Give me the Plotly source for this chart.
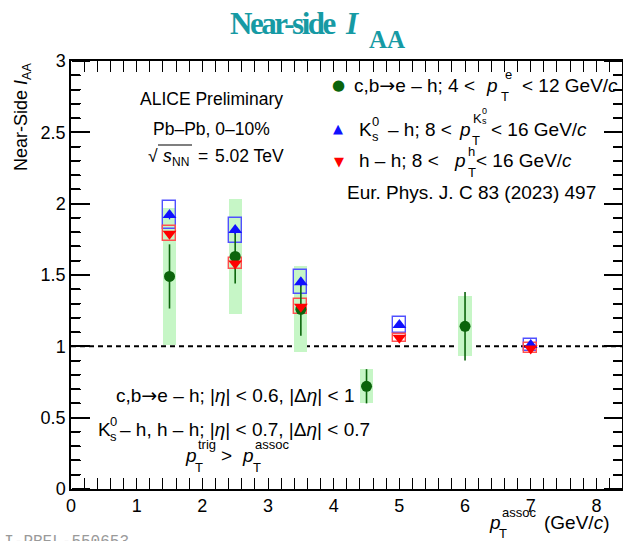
import plotly.graph_objects as go

# ---- data -----------------------------------------------------------------
# Heavy-flavour decay electron - hadron correlations
pt_hfe = [1.5, 2.5, 3.5, 4.5, 6.0]
iaa_hfe = [1.49, 1.63, 1.26, 0.72, 1.14]
stat_hfe = [0.225, 0.19, 0.185, 0.12, 0.24]
sys_hfe = [0.48, 0.40, 0.30, 0.12, 0.21]

# K0s - hadron correlations
pt_k0 = [1.5, 2.5, 3.5, 5.0, 7.0]
iaa_k0 = [1.92, 1.815, 1.45, 1.15, 1.01]
stat_k0 = [0.03, 0.03, 0.03, 0.02, 0.02]
sys_k0 = [0.097, 0.088, 0.085, 0.058, 0.04]

# hadron - hadron correlations
pt_hh = [1.5, 2.5, 3.5, 5.0, 7.0]
iaa_hh = [1.79, 1.58, 1.277, 1.06, 0.985]
stat_hh = [0.01, 0.01, 0.01, 0.01, 0.01]
sys_hh = [0.05, 0.041, 0.052, 0.027, 0.035]

x_range = [0, 8.39]
y_range = [0, 3]

# ---- style ----------------------------------------------------------------
W, H = 623, 541
ML, MR, MT, MB = 71, 1, 61, 52
SANS = "Liberation Sans, Arial, sans-serif"
SERIF = "Liberation Serif, Times New Roman, serif"
MONO = "Liberation Mono, Courier New, monospace"
GREEN = "#0b640b"
GREEN_BOX = "rgb(198,246,198)"
BLUE = "#1010ff"
BLUE_BOX = "rgb(80,80,255)"
RED = "#ff0000"
RED_BOX = "rgb(255,80,80)"
TEAL = "rgb(22,154,164)"
BOX_HALF = 0.1

fig = go.Figure()

# systematic uncertainty boxes
fig.add_trace(go.Bar(
    x=pt_hfe, y=[2 * s for s in sys_hfe], base=[v - s for v, s in zip(iaa_hfe, sys_hfe)],
    width=2 * BOX_HALF, marker=dict(color=GREEN_BOX, line=dict(width=0)),
    showlegend=False, hoverinfo="skip"))
fig.add_trace(go.Bar(
    x=pt_k0, y=[2 * s for s in sys_k0], base=[v - s for v, s in zip(iaa_k0, sys_k0)],
    width=2 * BOX_HALF, marker=dict(color="rgba(0,0,0,0)", line=dict(width=1.4, color=BLUE_BOX)),
    showlegend=False, hoverinfo="skip"))
fig.add_trace(go.Bar(
    x=pt_hh, y=[2 * s for s in sys_hh], base=[v - s for v, s in zip(iaa_hh, sys_hh)],
    width=2 * BOX_HALF, marker=dict(color="rgba(0,0,0,0)", line=dict(width=1.4, color=RED_BOX)),
    showlegend=False, hoverinfo="skip"))

# reference line at unity
fig.add_hline(y=1, line=dict(color="black", width=2, dash="5px,4px"), layer="below")

# points with statistical errors
fig.add_trace(go.Scatter(
    x=pt_hfe, y=iaa_hfe, mode="markers",
    marker=dict(symbol="circle", size=11, color=GREEN, line=dict(width=0)),
    error_y=dict(type="data", array=stat_hfe, color=GREEN, thickness=1.6, width=0),
    showlegend=False))
# K0s and h-h points live on companion y axes (same range) that carry the
# tick marks of the left and right frame edges
fig.add_trace(go.Scatter(
    x=pt_k0, y=iaa_k0, mode="markers", yaxis="y2",
    marker=dict(symbol="triangle-up", size=12, color=BLUE, line=dict(width=0)),
    error_y=dict(type="data", array=stat_k0, color=BLUE, thickness=1.3, width=0),
    showlegend=False))
fig.add_trace(go.Scatter(
    x=pt_hh, y=iaa_hh, mode="markers", yaxis="y3",
    marker=dict(symbol="triangle-down", size=12, color=RED, line=dict(width=0)),
    error_y=dict(type="data", array=stat_hh, color=RED, thickness=1.3, width=0),
    showlegend=False))


# ---- text helpers (pixel -> paper coordinates) ----------------------------
def px(x):
    return (x - ML) / (W - ML - MR)


def py(y):
    return (H - MB - y) / (H - MT - MB)


def put(text, x, y, size=19, anchor="left", color="black", family=SANS, **kw):
    fig.add_annotation(
        text=text, x=px(x), y=py(y), xref="paper", yref="paper",
        xanchor=anchor, yanchor="middle", showarrow=False,
        font=dict(size=size, color=color, family=family), **kw)


SUB = 13
ARROW = '<span style="font-family:DejaVu Sans">→</span>'

# title
put('<b><span style="letter-spacing:-2.5px">Near-side</span></b>', 228, 24, size=31,
    color=TEAL, family=SERIF)
put("<b><i>I</i></b>", 343, 24, size=31, color=TEAL, family=SERIF)
put("<b>AA</b>", 367, 40, size=25, color=TEAL, family=SERIF)

# legend
put("●", 338, 85, size=15, anchor="center", color=GREEN, family="DejaVu Sans")
put("c,b" + ARROW + "e – h; 4 <", 352, 85)
put("<i>p</i>", 484, 85)
put("T", 499, 96, size=SUB)
put("e", 503, 75, size=SUB)
put("< 12 GeV/<i>c</i>", 620, 85, anchor="right")

put("▲", 338, 128, size=13, anchor="center", color=BLUE, family="DejaVu Sans")
put("K", 357, 129)
put("0", 370, 121, size=SUB)
put("s", 370, 136, size=SUB)
put("– h; 8 <", 386, 129)
put("<i>p</i>", 457, 129)
put("T", 470, 140, size=SUB)
put("K", 471, 118, size=SUB)
put("0", 480, 111, size=9)
put("s", 480, 121, size=9)
put("< 16 GeV/<i>c</i>", 589, 129, anchor="right")

put("▼", 339, 161, size=13, anchor="center", color=RED, family="DejaVu Sans")
put("h – h; 8 <", 357, 160)
put("<i>p</i>", 452, 160)
put("T", 466, 172, size=SUB)
put("h", 466, 151, size=SUB)
put("< 16 GeV/<i>c</i>", 574, 160, anchor="right")

put("Eur. Phys. J. C 83 (2023) 497", 345, 192)

# collision system
put("ALICE Preliminary", 211, 99, size=17.5, anchor="center")
put("Pb–Pb, 0–10%", 211, 129, size=17.5, anchor="center")
put("√", 153, 156, size=17.5, anchor="center")
put("<i>s</i>", 161, 156, size=17.5)
put("NN", 170, 162, size=12)
put("=", 196, 156, size=17.5)
put("5.02 TeV", 213, 156, size=17.5)
fig.add_shape(type="line", xref="paper", yref="paper",
              x0=px(158), x1=px(192), y0=py(145), y1=py(145),
              line=dict(color="black", width=1.2))

# selection cuts
put("c,b" + ARROW + "e – h; |<i>η</i>| < 0.6, |Δ<i>η</i>| < 1", 235, 395, anchor="center")
put("K", 96, 429)
put("0", 108, 421, size=SUB)
put("s", 108, 436, size=SUB)
put("– h, h – h; |<i>η</i>| < 0.7, |Δ<i>η</i>| < 0.7", 372, 429, anchor="right")
put("<i>p</i>", 183, 455)
put("T", 193, 467, size=SUB)
put("trig", 196, 444, size=SUB)
put(">", 219, 455)
put("<i>p</i>", 240, 455)
put("T", 251, 467, size=SUB)
put("assoc", 253, 444, size=SUB)

# axis titles
put("<i>p</i>", 487, 522)
put("T", 497, 533, size=SUB)
put("assoc", 500, 512, size=SUB)
put("(GeV/<i>c</i>)", 611, 522, anchor="right")
fig.add_annotation(
    text="Near-Side <i>I</i><sub>AA</sub>", x=px(22), y=py(61), xref="paper", yref="paper",
    xanchor="center", yanchor="top", textangle=-90, showarrow=False,
    font=dict(size=18, color="black", family=SANS))

# preliminary figure id
put("ALI-PREL-550653", 131, 542, size=16, anchor="right", color="#9a9a9a", family=MONO)

# ---- axes -----------------------------------------------------------------
x_minor = dict(ticks="inside", dtick=0.2, ticklen=5.5, tickwidth=1, tickcolor="black", showgrid=False)

fig.update_xaxes(
    range=x_range, tickmode="linear", tick0=0, dtick=1,
    ticks="inside", ticklen=11, tickwidth=1.3, tickcolor="black", minor=x_minor,
    showline=True, linecolor="black", linewidth=1.5, mirror="allticks",
    showgrid=False, zeroline=False,
    tickfont=dict(size=18, family=SANS, color="black"))

# main y axis: frame line and tick labels
fig.update_layout(yaxis=dict(
    range=y_range, ticks="inside", ticklen=18, tickwidth=1.5, tickcolor="black",
    minor=dict(ticks="inside", dtick=0.1, ticklen=9, tickcolor="black"),
    showline=True, linecolor="black", linewidth=1.5, mirror="allticks",
    showgrid=False, zeroline=False,
    tickfont=dict(size=18, family=SANS, color="black")))

# companion axes: ticks pointing into the frame from the left and right edges
edge_ticks = dict(
    overlaying="y", anchor="free", range=y_range,
    tickmode="linear", tick0=0, dtick=0.5, ticks="outside", ticklen=18,
    tickwidth=1.5, tickcolor="black",
    minor=dict(ticks="outside", dtick=0.1, ticklen=9, tickwidth=1, tickcolor="black"),
    showline=False, showticklabels=False, showgrid=False, zeroline=False)
fig.update_layout(
    yaxis2=dict(side="right", position=0, **edge_ticks),
    yaxis3=dict(side="left", position=1, **edge_ticks),
)

fig.update_layout(
    template="none",
    width=W, height=H, autosize=False,
    margin=dict(l=ML, r=MR, t=MT, b=MB, pad=0),
    paper_bgcolor="white", plot_bgcolor="white",
    barmode="overlay", bargap=0, showlegend=False,
)

fig.write_html("out.html")
